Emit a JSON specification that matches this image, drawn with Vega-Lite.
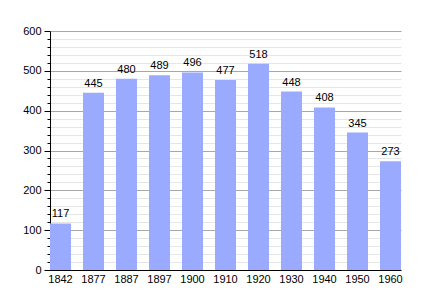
{
  "$schema": "https://vega.github.io/schema/vega-lite/v6.json",
  "width": 351,
  "height": 239,
  "autosize": "none",
  "padding": {"left": 50, "top": 31, "right": 29, "bottom": 30},
  "background": "white",
  "config": {
    "view": {"stroke": null},
    "font": "Liberation Sans"
  },
  "data": {
    "values": [
      {"year": "1842", "pop": 117},
      {"year": "1877", "pop": 445},
      {"year": "1887", "pop": 480},
      {"year": "1897", "pop": 489},
      {"year": "1900", "pop": 496},
      {"year": "1910", "pop": 477},
      {"year": "1920", "pop": 518},
      {"year": "1930", "pop": 448},
      {"year": "1940", "pop": 408},
      {"year": "1950", "pop": 345},
      {"year": "1960", "pop": 273}
    ]
  },
  "encoding": {
    "x": {
      "field": "year",
      "type": "nominal",
      "sort": null,
      "scale": {"paddingInner": 0.364, "paddingOuter": 0},
      "axis": {
        "title": null,
        "labelAngle": 0,
        "ticks": false,
        "domainColor": "black",
        "domainWidth": 1,
        "labelFontSize": 11,
        "labelColor": "black",
        "labelPadding": 3,
        "grid": false
      }
    },
    "y": {
      "field": "pop",
      "type": "quantitative",
      "scale": {"domain": [0, 600], "nice": false},
      "axis": {
        "title": null,
        "values": [0,20,40,60,80,100,120,140,160,180,200,220,240,260,280,300,320,340,360,380,400,420,440,460,480,500,520,540,560,580,600],
        "labelExpr": "datum.value % 100 === 0 ? datum.label : ''",
        "labelFontSize": 11,
        "labelColor": "black",
        "labelPadding": 3,
        "domainColor": "black",
        "tickColor": "black",
        "tickSize": {"condition": {"test": "datum.value % 100 === 0", "value": 6}, "value": 3},
        "grid": true,
        "gridColor": {"condition": {"test": "datum.value % 100 === 0", "value": "#a8a8a8"}, "value": "#e6e6e6"},
        "gridWidth": 1
      }
    }
  },
  "layer": [
    {"mark": {"type": "bar", "color": "#9aabff"}},
    {
      "mark": {"type": "text", "dy": -9, "fontSize": 11, "color": "black"},
      "encoding": {"text": {"field": "pop", "type": "quantitative"}}
    }
  ]
}
